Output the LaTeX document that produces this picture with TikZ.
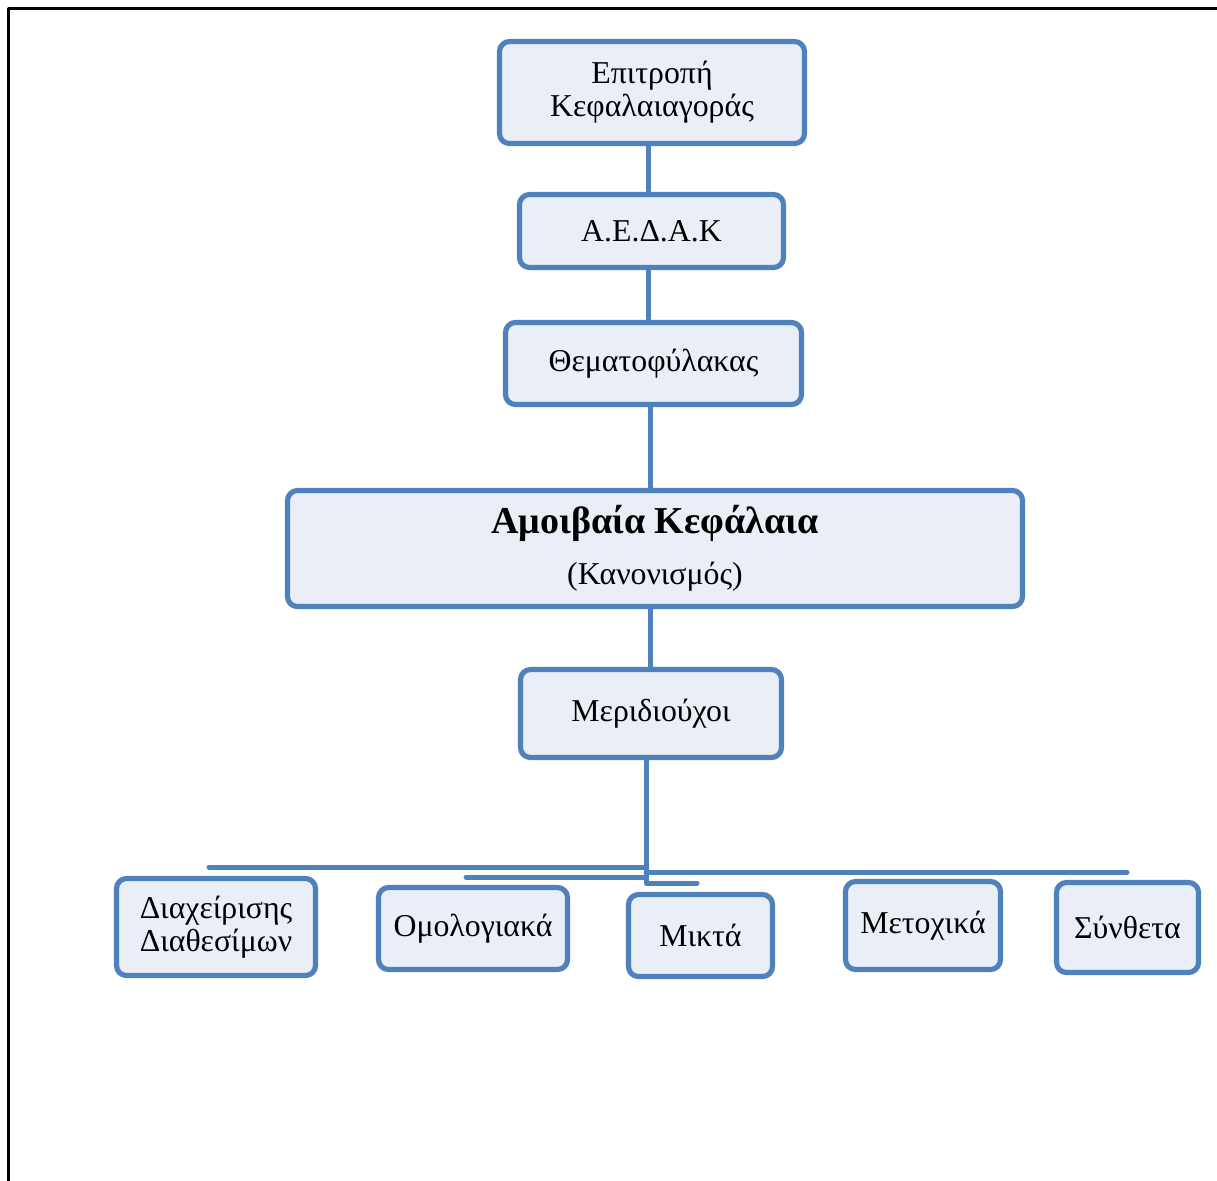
\documentclass[tikz,border=0pt]{standalone}
\usepackage{fontspec}
\setmainfont{Liberation Serif}
\definecolor{boxline}{RGB}{79,129,189}
\definecolor{boxfill}{RGB}{234,239,247}
\begin{document}
\begin{tikzpicture}[x=0.5pt, y=-0.5pt, line join=round, line cap=round,
	box/.style={draw=boxline, fill=boxfill, line width=2.6pt, rounded corners=5pt, align=center, inner sep=0pt, font=\fontsize{15.9}{16.5}\selectfont},
	link/.style={draw=boxline, line width=2.5pt}]
	\useasboundingbox (0,0) rectangle (1217,1180);
	\draw[line width=1.5pt, line cap=butt] (8,1190)--(8,8)--(1230,8);
	% chain
	\node[box, minimum width=152.5pt, minimum height=51pt] (epit) at (652,92.5) {Επιτροπή\\Κεφαλαιαγοράς};
	\node[box, minimum width=132pt, minimum height=36.5pt] (aedak) at (651.5,231) {Α.Ε.Δ.Α.Κ};
	\node[box, minimum width=148pt, minimum height=41pt] (themat) at (653.5,363.5) {Θεματοφύλακας};
	\node[box, minimum width=367.5pt, minimum height=58pt] (amoib) at (655,548.5) {{\fontsize{19}{20}\selectfont\bfseries Αμοιβαία Κεφάλαια}\\[9pt]\relax(Κανονισμός)};
	\node[box, minimum width=130.5pt, minimum height=44pt] (merid) at (651,713.5) {Μεριδιούχοι};
	% funds
	\node[box, minimum width=99.5pt, minimum height=48.5pt] (diax) at (216,927) {Διαχείρισης\\Διαθεσίμων};
	\node[box, minimum width=94.5pt, minimum height=41pt] (omol) at (473,928.5) {Ομολογιακά};
	\node[box, minimum width=72pt, minimum height=41pt] (mikta) at (700.5,935.5) {Μικτά};
	\node[box, minimum width=77.5pt, minimum height=44pt] (metox) at (923,925.5) {Μετοχικά};
	\node[box, minimum width=71pt, minimum height=45pt] (synth) at (1127.5,927.5) {Σύνθετα};
	\coordinate (spine) at (648,0);
	\draw[link] (spine |- epit.south)--(spine |- aedak.north);
	\draw[link] (spine |- aedak.south)--(spine |- themat.north);
	\draw[link] ([xshift=1pt]spine |- themat.south)--([xshift=1pt]spine |- amoib.north);
	\draw[link] ([xshift=1pt]spine |- amoib.south)--([xshift=1pt]spine |- merid.north);
	% bus
	\coordinate (hub) at (646,883);
	\coordinate (busL) at (209,867);
	\coordinate (busO) at (466,877);
	\coordinate (busR) at (1127,872);
	\coordinate (busM) at (697,883);
	\draw[link] (hub |- merid.south)--(hub)--(busM);
	\draw[link] (busL)--(busL -| hub);
	\draw[link] (busO)--(busO -| hub);
	\draw[link] (hub |- busR)--(busR);
\end{tikzpicture}
\end{document}
